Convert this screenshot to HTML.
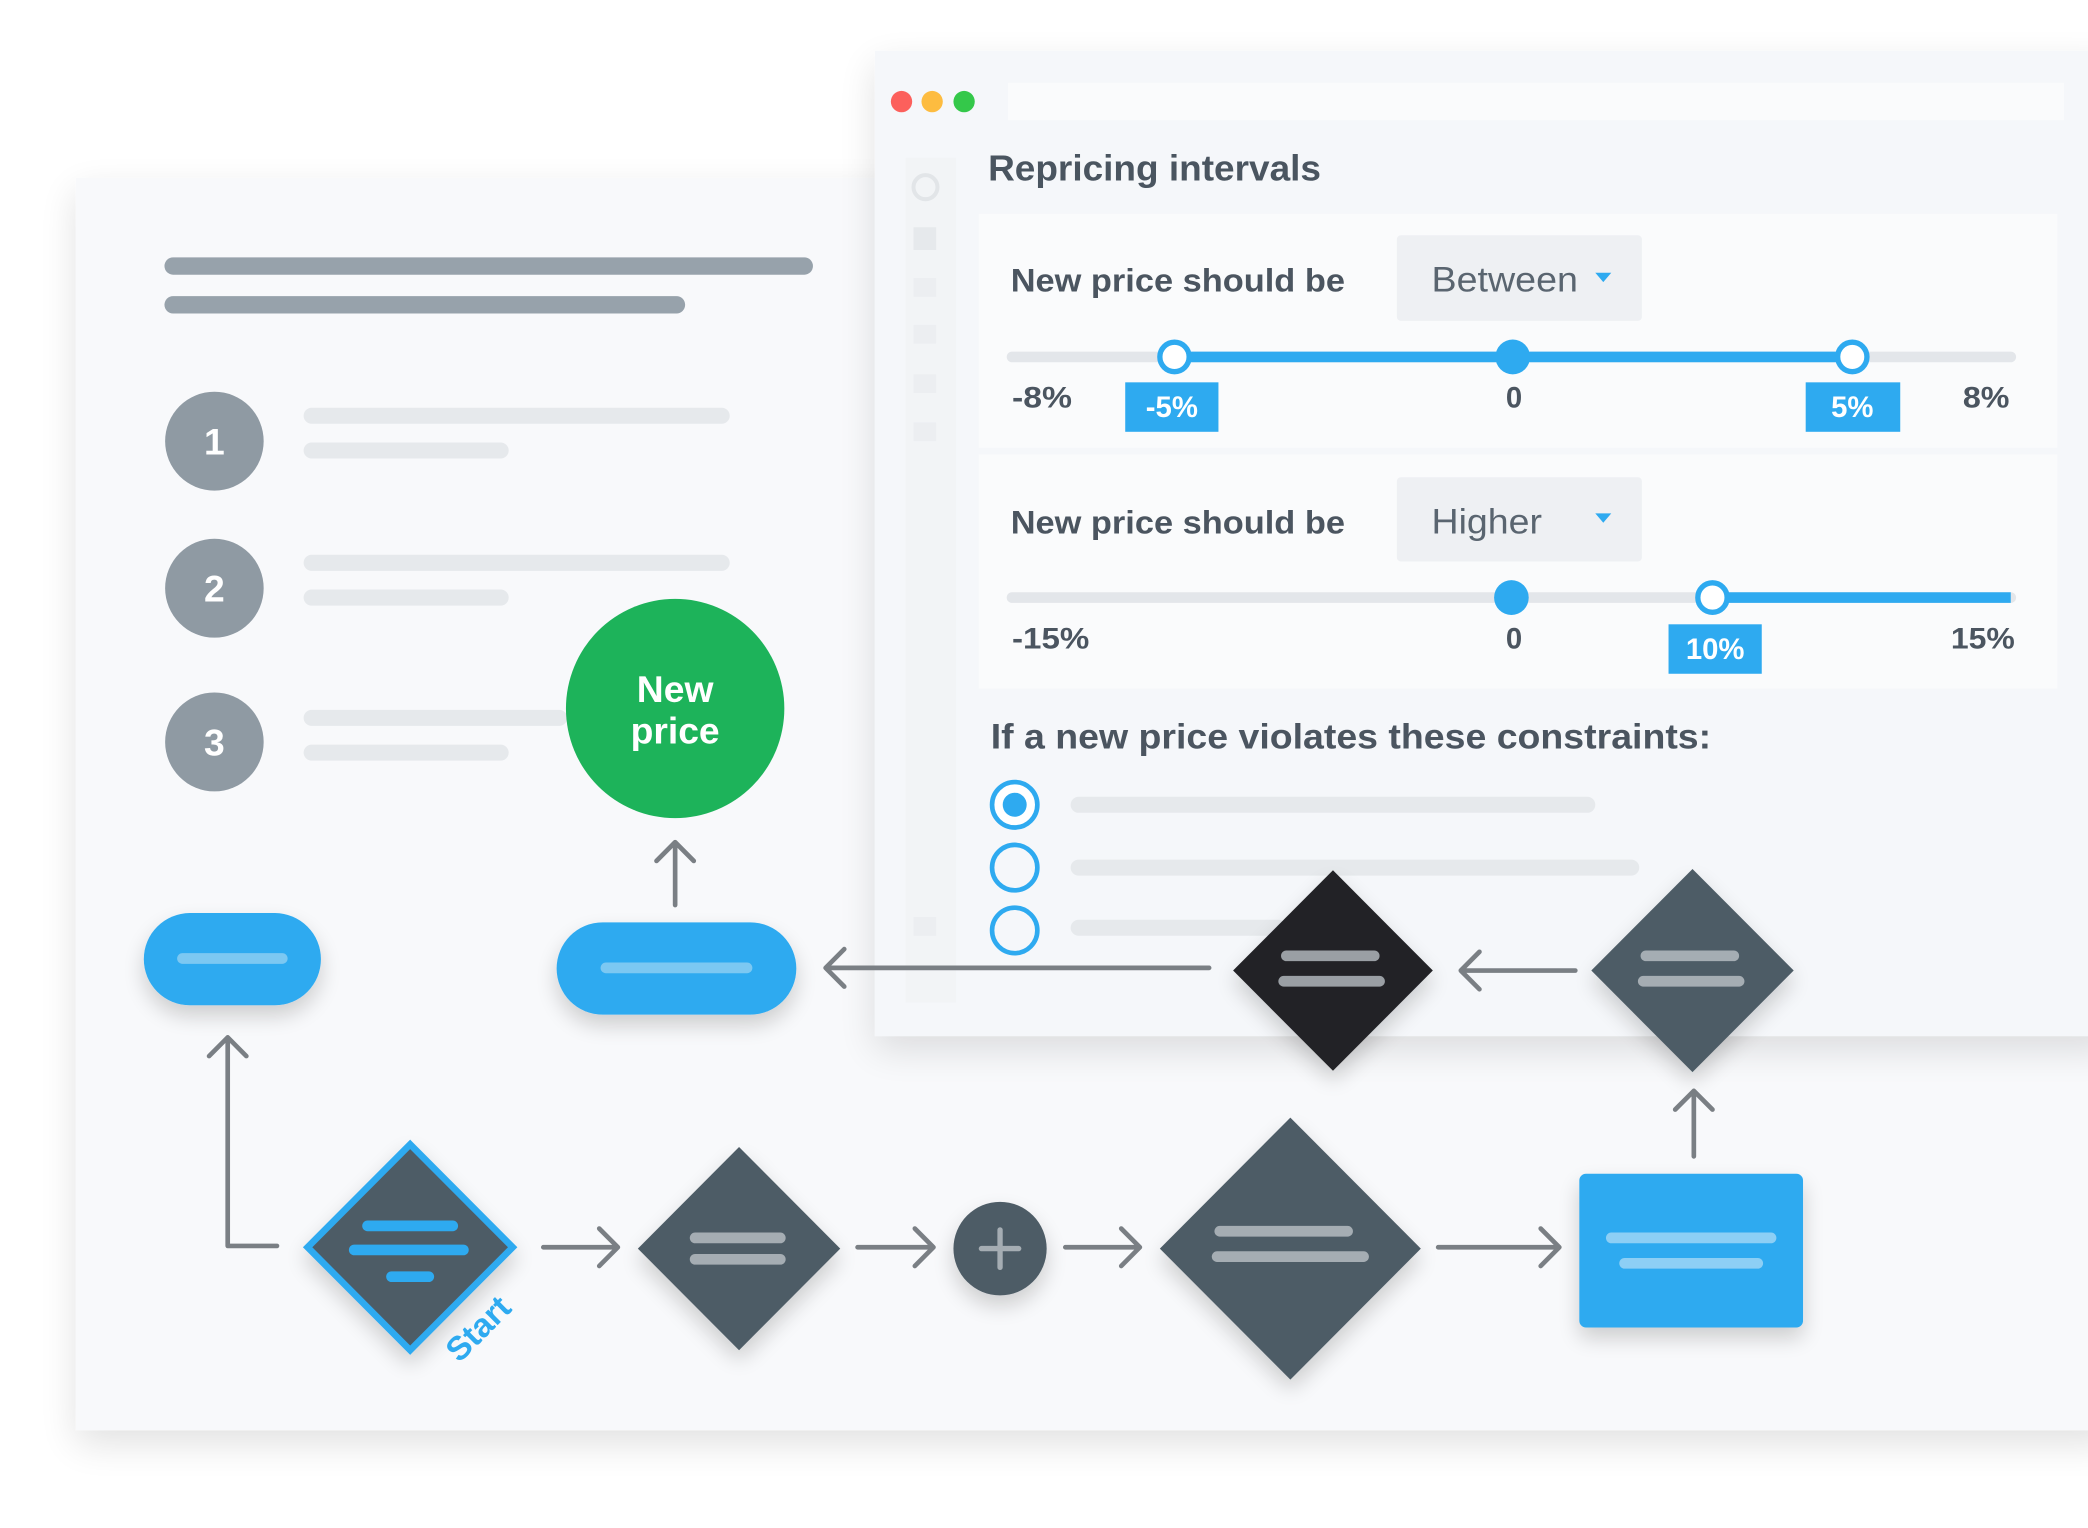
<!DOCTYPE html>
<html><head><meta charset="utf-8"><style>
html,body{margin:0;padding:0;background:#fff;width:2088px;height:1528px;overflow:hidden}
svg{display:block}
text{font-family:"Liberation Sans",sans-serif}
</style></head><body>
<svg width="2088" height="1528" viewBox="0 0 1568 1143" preserveAspectRatio="none" xmlns="http://www.w3.org/2000/svg">
<defs>
<filter id="sh" x="-10%" y="-10%" width="130%" height="130%"><feGaussianBlur in="SourceAlpha" stdDeviation="14"/><feOffset dy="10"/><feComponentTransfer><feFuncA type="linear" slope="0.12"/></feComponentTransfer><feMerge><feMergeNode/><feMergeNode in="SourceGraphic"/></feMerge></filter>
<filter id="sh2" x="-30%" y="-30%" width="160%" height="160%"><feGaussianBlur in="SourceAlpha" stdDeviation="8"/><feOffset dy="8"/><feComponentTransfer><feFuncA type="linear" slope="0.18"/></feComponentTransfer><feMerge><feMergeNode/><feMergeNode in="SourceGraphic"/></feMerge></filter>
</defs>
<rect width="1568" height="1143" fill="#fff"/>
<rect x="57" y="133" width="1530" height="937" fill="#f8f9fb" filter="url(#sh)"/>
<rect x="657" y="38" width="930" height="737" fill="#f5f7fa" filter="url(#sh)"/>
<circle cx="677" cy="76" r="8" fill="#fc605c"/><circle cx="700" cy="76" r="8" fill="#fdbc40"/><circle cx="724" cy="76" r="8" fill="#34c84a"/>
<rect x="757" y="62" width="793" height="28" fill="#fafbfc"/>
<rect x="680" y="118" width="38" height="632" fill="#f2f4f6"/>
<circle cx="695" cy="140" r="9" fill="none" stroke="#e2e5e8" stroke-width="3"/>
<rect x="686" y="170" width="17" height="17" fill="#e6e9ec"/>
<rect x="686" y="208" width="17" height="14" fill="#eceef1"/>
<rect x="686" y="243" width="17" height="14" fill="#eceef1"/>
<rect x="686" y="280" width="17" height="14" fill="#eceef1"/>
<rect x="686" y="316" width="17" height="14" fill="#eceef1"/>
<rect x="686" y="686" width="17" height="14" fill="#eceef1"/>
<text x="742" y="135" font-size="27" font-weight="bold" fill="#4a5560" textLength="250" lengthAdjust="spacingAndGlyphs">Repricing intervals</text>
<rect x="735" y="160" width="810" height="175" fill="#fafbfc"/>
<rect x="735" y="340" width="810" height="175" fill="#fafbfc"/>
<text x="759" y="218" font-size="24" font-weight="bold" fill="#4b5560" textLength="251" lengthAdjust="spacingAndGlyphs">New price should be</text>
<rect x="1049" y="176" width="184" height="64" rx="3" fill="#eef0f3"/>
<text x="1075" y="218" font-size="26" fill="#5a6570" textLength="110" lengthAdjust="spacingAndGlyphs">Between</text>
<path d="M1198 204 L1210 204 L1204 211 Z" fill="#2eaaf0"/>
<line x1="760" y1="267" x2="1510" y2="267" stroke="#e3e6ea" stroke-width="8" stroke-linecap="round"/>
<line x1="882" y1="267" x2="1391" y2="267" stroke="#2eaaf0" stroke-width="8"/>
<circle cx="882" cy="267" r="11" fill="#fff" stroke="#2eaaf0" stroke-width="4"/>
<circle cx="1391" cy="267" r="11" fill="#fff" stroke="#2eaaf0" stroke-width="4"/>
<circle cx="1136" cy="267" r="13" fill="#2eaaf0"/>
<text x="760" y="305" font-size="22" font-weight="bold" fill="#4b5560" textLength="45" lengthAdjust="spacingAndGlyphs">-8%</text>
<text x="1137" y="305" font-size="22" font-weight="bold" fill="#4b5560" text-anchor="middle">0</text>
<text x="1474" y="305" font-size="22" font-weight="bold" fill="#4b5560" textLength="35" lengthAdjust="spacingAndGlyphs">8%</text>
<rect x="845" y="286" width="70" height="37" fill="#2eaaf0"/>
<text x="880" y="312" font-size="22" font-weight="bold" fill="#fff" text-anchor="middle">-5%</text>
<rect x="1356" y="286" width="71" height="37" fill="#2eaaf0"/>
<text x="1391" y="312" font-size="22" font-weight="bold" fill="#fff" text-anchor="middle">5%</text>
<text x="759" y="399" font-size="24" font-weight="bold" fill="#4b5560" textLength="251" lengthAdjust="spacingAndGlyphs">New price should be</text>
<rect x="1049" y="357" width="184" height="63" rx="3" fill="#eef0f3"/>
<text x="1075" y="399" font-size="26" fill="#5a6570" textLength="83" lengthAdjust="spacingAndGlyphs">Higher</text>
<path d="M1198 384 L1210 384 L1204 391 Z" fill="#2eaaf0"/>
<line x1="760" y1="447" x2="1510" y2="447" stroke="#e3e6ea" stroke-width="8" stroke-linecap="round"/>
<line x1="1286" y1="447" x2="1510" y2="447" stroke="#2eaaf0" stroke-width="8"/>
<circle cx="1135" cy="447" r="13" fill="#2eaaf0"/>
<circle cx="1286" cy="447" r="11" fill="#fff" stroke="#2eaaf0" stroke-width="4"/>
<text x="760" y="485" font-size="22" font-weight="bold" fill="#4b5560" textLength="58" lengthAdjust="spacingAndGlyphs">-15%</text>
<text x="1137" y="485" font-size="22" font-weight="bold" fill="#4b5560" text-anchor="middle">0</text>
<text x="1465" y="485" font-size="22" font-weight="bold" fill="#4b5560" textLength="48" lengthAdjust="spacingAndGlyphs">15%</text>
<rect x="1253" y="467" width="70" height="37" fill="#2eaaf0"/>
<text x="1288" y="493" font-size="22" font-weight="bold" fill="#fff" text-anchor="middle">10%</text>
<text x="744" y="560" font-size="26" font-weight="bold" fill="#4b5560" textLength="541" lengthAdjust="spacingAndGlyphs">If a new price violates these constraints:</text>
<circle cx="762" cy="602" r="17" fill="#fff" stroke="#2eaaf0" stroke-width="3.5"/><circle cx="762" cy="602" r="9" fill="#2eaaf0"/>
<circle cx="762" cy="649" r="17" fill="none" stroke="#2eaaf0" stroke-width="3.5"/>
<circle cx="762" cy="696" r="17" fill="none" stroke="#2eaaf0" stroke-width="3.5"/>
<g stroke="#e6e9ec" stroke-width="12" stroke-linecap="round">
<line x1="810" y1="602" x2="1192" y2="602"/><line x1="810" y1="649" x2="1225" y2="649"/><line x1="810" y1="694" x2="960" y2="694"/>
</g>
<g stroke-linecap="round">
<line x1="130" y1="199" x2="604" y2="199" stroke="#97a2ab" stroke-width="13"/>
<line x1="130" y1="228" x2="508" y2="228" stroke="#97a2ab" stroke-width="13"/>
<g stroke="#e6e9ec" stroke-width="12">
<line x1="234" y1="311" x2="542" y2="311"/><line x1="234" y1="337" x2="376" y2="337"/>
<line x1="234" y1="421" x2="542" y2="421"/><line x1="234" y1="447" x2="376" y2="447"/>
<line x1="234" y1="537" x2="420" y2="537"/><line x1="234" y1="563" x2="376" y2="563"/>
</g></g>
<g fill="#8f9aa3"><circle cx="161" cy="330" r="37"/><circle cx="161" cy="440" r="37"/><circle cx="161" cy="555" r="37"/></g>
<g font-size="28" font-weight="bold" fill="#fff" text-anchor="middle"><text x="161" y="340">1</text><text x="161" y="450">2</text><text x="161" y="565">3</text></g>
<circle cx="507" cy="530" r="82" fill="#1db35a"/>
<text x="507" y="525" font-size="28" font-weight="bold" fill="#fff" text-anchor="middle">New</text>
<text x="507" y="556" font-size="28" font-weight="bold" fill="#fff" text-anchor="middle">price</text>
<g stroke="#7a7f84" stroke-width="3.5" fill="none" stroke-linecap="round" stroke-linejoin="round">
<path d="M507 677 V630 M493 644 L507 630 L521 644"/>
<path d="M908 724 H620 M634 710 L620 724 L634 738"/>
<path d="M1183 726 H1097 M1111 712 L1097 726 L1111 740"/>
<path d="M1272 865 V816 M1258 830 L1272 816 L1286 830"/>
<path d="M208 932 H171 V776 M157 790 L171 776 L185 790"/>
<path d="M408 933 H464 M450 919 L464 933 L450 947"/>
<path d="M644 933 H701 M687 919 L701 933 L687 947"/>
<path d="M800 933 H856 M842 919 L856 933 L842 947"/>
<path d="M1080 933 H1171 M1157 919 L1171 933 L1157 947"/>
</g>
<g filter="url(#sh2)">
<rect x="108" y="683" width="133" height="69" rx="34.5" fill="#2eaaf0"/>
<rect x="418" y="690" width="180" height="69" rx="34.5" fill="#2eaaf0"/>
<path d="M1001 651 L1076 726 L1001 801 L926 726 Z" fill="#222426"/>
<path d="M1271 650 L1347 726 L1271 802 L1195 726 Z" fill="#4e5c66"/>
<path d="M308 856 L385 933 L308 1010 L231 933 Z" fill="#4e5c66" stroke="#2eaaf0" stroke-width="5"/>
<path d="M555 858 L631 934 L555 1010 L479 934 Z" fill="#4e5c66"/>
<circle cx="751" cy="934" r="35" fill="#4e5c66"/>
<path d="M969 836 L1067 934 L969 1032 L871 934 Z" fill="#4e5c66"/>
<rect x="1186" y="878" width="168" height="115" rx="5" fill="#2eaaf0"/>
</g>
<g stroke-linecap="round" stroke-width="8">
<line x1="137" y1="717" x2="212" y2="717" stroke="#7cc8f2"/>
<line x1="455" y1="724" x2="561" y2="724" stroke="#7cc8f2"/>
<line x1="966" y1="715" x2="1032" y2="715" stroke="#9a9fa4"/>
<line x1="964" y1="734" x2="1036" y2="734" stroke="#9a9fa4"/>
<line x1="1236" y1="715" x2="1302" y2="715" stroke="#a5adb3"/>
<line x1="1234" y1="734" x2="1306" y2="734" stroke="#a5adb3"/>
<line x1="276" y1="917" x2="340" y2="917" stroke="#2eaaf0"/>
<line x1="266" y1="935" x2="348" y2="935" stroke="#2eaaf0"/>
<line x1="294" y1="955" x2="322" y2="955" stroke="#2eaaf0"/>
<line x1="522" y1="926" x2="586" y2="926" stroke="#a5adb3"/>
<line x1="522" y1="942" x2="586" y2="942" stroke="#a5adb3"/>
<line x1="916" y1="921" x2="1012" y2="921" stroke="#a5adb3"/>
<line x1="914" y1="940" x2="1024" y2="940" stroke="#a5adb3"/>
<line x1="1210" y1="926" x2="1330" y2="926" stroke="#8dcff5"/>
<line x1="1220" y1="945" x2="1320" y2="945" stroke="#8dcff5"/>
<line x1="737" y1="934" x2="765" y2="934" stroke="#a5adb3" stroke-width="4"/>
<line x1="751" y1="920" x2="751" y2="948" stroke="#a5adb3" stroke-width="4"/>
</g>
<text x="0" y="0" font-size="25" font-weight="bold" fill="#2eaaf0" transform="translate(345 1020) rotate(-45)">Start</text>
</svg>
</body></html>
